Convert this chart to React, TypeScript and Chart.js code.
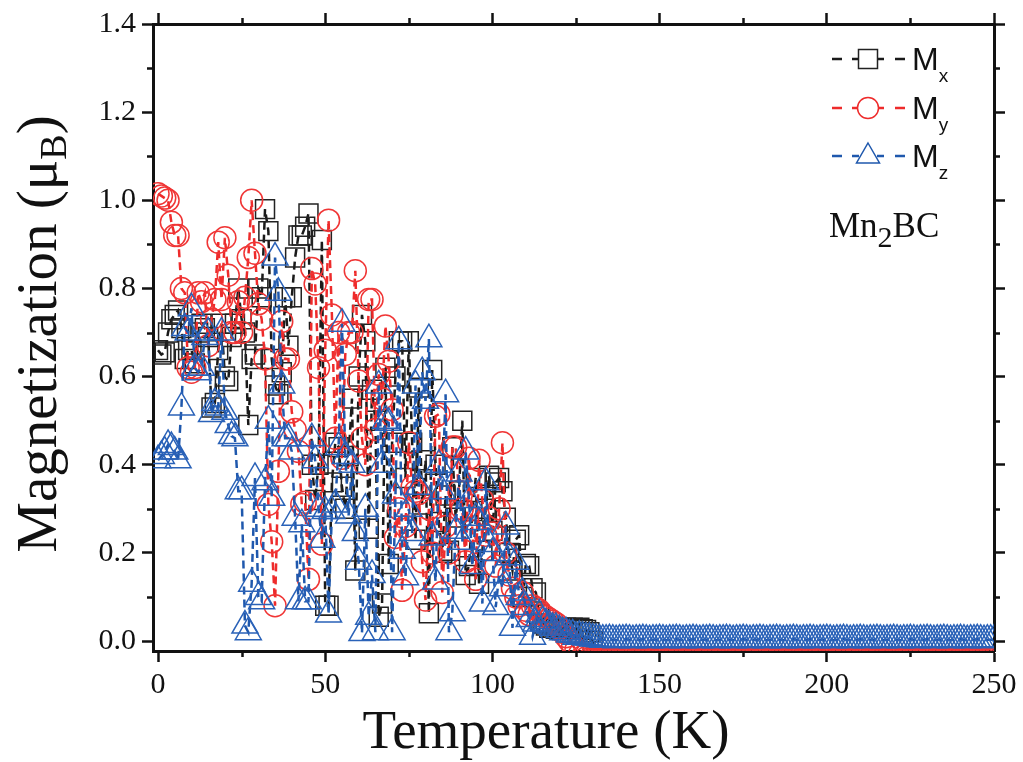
import React, { useEffect, useRef } from 'react';
import { Chart, registerables } from 'chart.js';

Chart.register(...registerables);

// Temperature grid (K), one sample per kelvin from 0 to 250
const temps: number[] = Array.from({ length: 251 }, (_, i) => i);

const mx: number[] = [
  0.66, 0.65, 0.655, 0.70, 0.73, 0.74, 0.75, 0.71, 0.64, 0.66,
  0.66, 0.63, 0.70, 0.72, 0.71, 0.69, 0.53, 0.54, 0.66, 0.72,
  0.60, 0.59, 0.69, 0.72, 0.80, 0.73, 0.70, 0.49, 0.64, 0.65,
  0.80, 0.78, 0.98, 0.93, 0.64, 0.58, 0.56, 0.61, 0.78, 0.67,
  0.78, 0.87, 0.92, 0.92, 0.94, 0.97, 0.40, 0.32, 0.40, 0.91,
  0.08, 0.08, 0.36, 0.45, 0.44, 0.35, 0.30, 0.42, 0.55, 0.16,
  0.60, 0.74, 0.68, 0.255, 0.57, 0.50, 0.055, 0.085, 0.62, 0.175,
  0.45, 0.60, 0.68, 0.68, 0.37, 0.68, 0.45, 0.23, 0.575, 0.31,
  0.41, 0.063, 0.615, 0.40, 0.27, 0.20, 0.33, 0.205, 0.44, 0.28,
  0.34, 0.50, 0.15, 0.17, 0.295, 0.37, 0.13, 0.205, 0.30, 0.375,
  0.25, 0.36, 0.37, 0.34, 0.28, 0.20, 0.16, 0.23, 0.24, 0.10,
  0.175, 0.17, 0.12, 0.11, 0.06, 0.04, 0.035, 0.03, 0.03, 0.028,
  0.03, 0.028, 0.03, 0.026, 0.03, 0.028, 0.03, 0.027, 0.025, 0.02,
  0.0, -0.045, -0.044, -0.045, -0.046, -0.045, -0.044, -0.045, -0.045, -0.046,
  -0.045, -0.044, -0.045, -0.045, -0.046, -0.045, -0.044, -0.045, -0.045, -0.046,
  -0.045, -0.044, -0.045, -0.045, -0.046, -0.045, -0.044, -0.045, -0.045, -0.046,
  -0.045, -0.044, -0.045, -0.045, -0.046, -0.045, -0.044, -0.045, -0.045, -0.046,
  -0.045, -0.044, -0.045, -0.045, -0.046, -0.045, -0.044, -0.045, -0.045, -0.046,
  -0.045, -0.044, -0.045, -0.045, -0.046, -0.045, -0.044, -0.045, -0.045, -0.046,
  -0.045, -0.044, -0.045, -0.045, -0.046, -0.045, -0.044, -0.045, -0.045, -0.046,
  -0.045, -0.044, -0.045, -0.045, -0.046, -0.045, -0.044, -0.045, -0.045, -0.046,
  -0.045, -0.044, -0.045, -0.045, -0.046, -0.045, -0.044, -0.045, -0.045, -0.046,
  -0.045, -0.044, -0.045, -0.045, -0.046, -0.045, -0.044, -0.045, -0.045, -0.046,
  -0.045, -0.044, -0.045, -0.045, -0.046, -0.045, -0.044, -0.045, -0.045, -0.046,
  -0.045, -0.044, -0.045, -0.045, -0.046, -0.045, -0.044, -0.045, -0.045, -0.046,
  -0.045,
];

const my: number[] = [
  1.015, 1.01, 1.005, 1.0, 0.95, 0.92, 0.92, 0.80, 0.79, 0.62,
  0.61, 0.62, 0.79, 0.77, 0.79, 0.67, 0.73, 0.775, 0.905, 0.775,
  0.915, 0.83, 0.70, 0.70, 0.77, 0.70, 0.78, 0.87, 1.0, 0.88,
  0.765, 0.73, 0.64, 0.31, 0.225, 0.08, 0.385, 0.725, 0.64, 0.64,
  0.52, 0.48, 0.43, 0.31, 0.315, 0.14, 0.845, 0.81, 0.62, 0.22,
  0.66, 0.955, 0.74, 0.46, 0.70, 0.415, 0.65, 0.70, 0.70, 0.84,
  0.59, 0.46, 0.40, 0.775, 0.775, 0.48, 0.605, 0.55, 0.715, 0.635,
  0.525, 0.235, 0.30, 0.115, 0.26, 0.45, 0.35, 0.34, 0.335, 0.18,
  0.093, 0.30, 0.20, 0.51, 0.515, 0.11, 0.26, 0.20, 0.44, 0.44,
  0.34, 0.30, 0.18, 0.415, 0.25, 0.14, 0.41, 0.32, 0.24, 0.28,
  0.245, 0.17, 0.30, 0.45, 0.20, 0.15, 0.12, 0.10, 0.08, 0.11,
  0.07, 0.06, 0.08, 0.075, 0.07, 0.06, 0.055, 0.05, 0.045, 0.04,
  0.03, 0.02, 0.01, 0.0, -0.01, -0.02, -0.03, -0.035, -0.038, -0.04,
  -0.04, -0.04, -0.041, -0.04, -0.04, -0.041, -0.04, -0.04, -0.041, -0.04,
  -0.04, -0.04, -0.041, -0.04, -0.04, -0.041, -0.04, -0.04, -0.041, -0.04,
  -0.04, -0.04, -0.041, -0.04, -0.04, -0.041, -0.04, -0.04, -0.041, -0.04,
  -0.04, -0.04, -0.041, -0.04, -0.04, -0.041, -0.04, -0.04, -0.041, -0.04,
  -0.04, -0.04, -0.041, -0.04, -0.04, -0.041, -0.04, -0.04, -0.041, -0.04,
  -0.04, -0.04, -0.041, -0.04, -0.04, -0.041, -0.04, -0.04, -0.041, -0.04,
  -0.04, -0.04, -0.041, -0.04, -0.04, -0.041, -0.04, -0.04, -0.041, -0.04,
  -0.04, -0.04, -0.041, -0.04, -0.04, -0.041, -0.04, -0.04, -0.041, -0.04,
  -0.04, -0.04, -0.041, -0.04, -0.04, -0.041, -0.04, -0.04, -0.041, -0.04,
  -0.04, -0.04, -0.041, -0.04, -0.04, -0.041, -0.04, -0.04, -0.041, -0.04,
  -0.04, -0.04, -0.041, -0.04, -0.04, -0.041, -0.04, -0.04, -0.041, -0.04,
  -0.04, -0.04, -0.041, -0.04, -0.04, -0.041, -0.04, -0.04, -0.041, -0.04,
  -0.04,
];

const mz: number[] = [
  0.41, 0.42, 0.43, 0.445, 0.44, 0.43, 0.41, 0.53, 0.71, 0.70,
  0.755, 0.62, 0.61, 0.62, 0.69, 0.70, 0.515, 0.54, 0.53, 0.70,
  0.52, 0.49, 0.465, 0.46, 0.34, 0.34, 0.035, 0.02, 0.13, 0.37,
  0.10, 0.09, 0.36, 0.50, 0.325, 0.87, 0.79, 0.58, 0.46, 0.46,
  0.43, 0.28, 0.09, 0.265, 0.09, 0.09, 0.46, 0.41, 0.30, 0.23,
  0.295, 0.06, 0.295, 0.31, 0.44, 0.72, 0.42, 0.285, 0.40, 0.245,
  0.18, 0.018, 0.30, 0.055, 0.15, 0.02, 0.58, 0.40, 0.50, 0.495,
  0.02, 0.33, 0.68, 0.205, 0.145, 0.30, 0.245, 0.58, 0.35, 0.61,
  0.545, 0.685, 0.235, 0.135, 0.40, 0.34, 0.56, 0.02, 0.063, 0.25,
  0.38, 0.225, 0.43, 0.32, 0.17, 0.28, 0.27, 0.085, 0.36, 0.22,
  0.20, 0.077, 0.15, 0.12, 0.26, 0.19, 0.03, 0.18, 0.10, 0.11,
  0.077, 0.05, 0.01, 0.04, 0.06, 0.045, 0.04, 0.035, 0.03, 0.03,
  0.025, 0.02, 0.02, 0.015, 0.015, 0.01, 0.012, 0.01, 0.008, 0.008,
  0.006, 0.005, 0.004, 0.003, 0.003, 0.004, 0.003, 0.002, 0.003, 0.003,
  0.004, 0.003, 0.002, 0.003, 0.003, 0.004, 0.003, 0.002, 0.003, 0.003,
  0.004, 0.003, 0.002, 0.003, 0.003, 0.004, 0.003, 0.002, 0.003, 0.003,
  0.004, 0.003, 0.002, 0.003, 0.003, 0.004, 0.003, 0.002, 0.003, 0.003,
  0.004, 0.003, 0.002, 0.003, 0.003, 0.004, 0.003, 0.002, 0.003, 0.003,
  0.004, 0.003, 0.002, 0.003, 0.003, 0.004, 0.003, 0.002, 0.003, 0.003,
  0.004, 0.003, 0.002, 0.003, 0.003, 0.004, 0.003, 0.002, 0.003, 0.003,
  0.004, 0.003, 0.002, 0.003, 0.003, 0.004, 0.003, 0.002, 0.003, 0.003,
  0.004, 0.003, 0.002, 0.003, 0.003, 0.004, 0.003, 0.002, 0.003, 0.003,
  0.004, 0.003, 0.002, 0.003, 0.003, 0.004, 0.003, 0.002, 0.003, 0.003,
  0.004, 0.003, 0.002, 0.003, 0.003, 0.004, 0.003, 0.002, 0.003, 0.003,
  0.004, 0.003, 0.002, 0.003, 0.003, 0.004, 0.003, 0.002, 0.003, 0.003,
  0.003,
];

const xMajorTicks = [0, 50, 100, 150, 200, 250];
const xMinorTicks = [25, 75, 125, 175, 225];
const yMajorTicks = [0, 0.2, 0.4, 0.6, 0.8, 1.0, 1.2, 1.4];
const yMinorTicks = [0.1, 0.3, 0.5, 0.7, 0.9, 1.1, 1.3];

const X_MIN = -1.5;
const X_MAX = 250;
const Y_MIN = -0.0226;
const Y_MAX = 1.4;

const BLACK = '#1a1a1a';
const RED = '#ee2b2b';
const BLUE = '#1f58ad';
const SERIF = '"Liberation Serif", "Times New Roman", serif';
const SANS = '"Liberation Sans", Arial, sans-serif';

const MAJOR_TL = 11;
const MINOR_TL = 6;

function axisCommon(position: string, showLabels: boolean, size: number, isX: boolean, majors: number[]) {
  return {
    type: 'linear' as const,
    position,
    min: isX ? X_MIN : Y_MIN,
    max: isX ? X_MAX : Y_MAX,
    z: 2,
    afterBuildTicks: (scale: any) => {
      scale.ticks = majors.map((v) => ({ value: v }));
    },
    afterFit: (scale: any) => {
      if (isX) scale.height = size;
      else scale.width = size;
    },
    ticks: {
      display: showLabels,
      autoSkip: false,
      maxRotation: 0,
      padding: isX ? 5 : 6,
      color: '#111',
      font: { family: SERIF, size: 30 },
      callback: (v: any) => (isX ? String(v) : Number(v).toFixed(1)),
    },
    grid: {
      drawOnChartArea: false,
      drawTicks: true,
      tickLength: MAJOR_TL,
      tickWidth: 2.5,
      tickColor: '#111',
    },
    border: { display: true, color: '#111', width: 3 },
  };
}

function drawSubText(ctx: CanvasRenderingContext2D, parts: { t: string; font: string; dy: number }[], x: number, y: number, align: 'left' | 'center') {
  let total = 0;
  const widths = parts.map((p) => {
    ctx.font = p.font;
    const w = ctx.measureText(p.t).width;
    total += w;
    return w;
  });
  let cx = align === 'center' ? x - total / 2 : x;
  parts.forEach((p, i) => {
    ctx.font = p.font;
    ctx.fillText(p.t, cx, y + p.dy);
    cx += widths[i];
  });
}

const decorPlugin = {
  id: 'decor',
  afterDraw(chart: any) {
    const ctx: CanvasRenderingContext2D = chart.ctx;
    const xs = chart.scales.x;
    const ys = chart.scales.y;
    const area = chart.chartArea;
    ctx.save();
    // minor ticks
    ctx.strokeStyle = '#111';
    ctx.lineWidth = 2.5;
    ctx.beginPath();
    xMinorTicks.forEach((v) => {
      const px = Math.round(xs.getPixelForValue(v)) + 0.5;
      ctx.moveTo(px, area.bottom);
      ctx.lineTo(px, area.bottom + MINOR_TL);
      ctx.moveTo(px, area.top);
      ctx.lineTo(px, area.top - MINOR_TL);
    });
    yMinorTicks.forEach((v) => {
      const py = Math.round(ys.getPixelForValue(v)) + 0.5;
      ctx.moveTo(area.left, py);
      ctx.lineTo(area.left - MINOR_TL, py);
      ctx.moveTo(area.right, py);
      ctx.lineTo(area.right + MINOR_TL, py);
    });
    ctx.stroke();

    // axis titles
    ctx.fillStyle = '#111';
    ctx.textBaseline = 'alphabetic';
    ctx.textAlign = 'left';
    drawSubText(ctx, [{ t: 'Temperature (K)', font: `55px ${SERIF}`, dy: 0 }], 546, 748, 'center');
    ctx.save();
    ctx.translate(56, 334);
    ctx.rotate(-Math.PI / 2);
    drawSubText(
      ctx,
      [
        { t: 'Magnetization (\u03bc', font: `57px ${SERIF}`, dy: 0 },
        { t: 'B', font: `38px ${SERIF}`, dy: 10 },
        { t: ')', font: `57px ${SERIF}`, dy: 0 },
      ],
      0,
      0,
      'center'
    );
    ctx.restore();

    // legend
    const rows = [
      { y: 59, color: BLACK, mColor: '#222', shape: 'rect', sub: 'x' },
      { y: 108, color: RED, mColor: RED, shape: 'circle', sub: 'y' },
      { y: 156, color: BLUE, mColor: BLUE, shape: 'triangle', sub: 'z' },
    ];
    rows.forEach((r) => {
      ctx.strokeStyle = r.color;
      ctx.lineWidth = 2.5;
      ctx.beginPath();
      [[832, 842], [852, 859], [877, 884], [895, 905]].forEach(([a, b]) => {
        ctx.moveTo(a, r.y);
        ctx.lineTo(b, r.y);
      });
      ctx.stroke();
      ctx.strokeStyle = r.mColor;
      ctx.lineWidth = 1.5;
      ctx.fillStyle = '#fff';
      ctx.beginPath();
      const cx = 868;
      if (r.shape === 'rect') {
        ctx.rect(cx - 9.5, r.y - 9.5, 19, 19);
      } else if (r.shape === 'circle') {
        ctx.arc(cx, r.y, 10.5, 0, Math.PI * 2);
      } else {
        ctx.moveTo(cx, r.y - 13);
        ctx.lineTo(cx + 11.5, r.y + 7);
        ctx.lineTo(cx - 11.5, r.y + 7);
        ctx.closePath();
      }
      ctx.fill();
      ctx.stroke();
      ctx.fillStyle = '#111';
      ctx.textAlign = 'left';
      drawSubText(
        ctx,
        [
          { t: 'M', font: `32px ${SANS}`, dy: 0 },
          { t: r.sub, font: `19px ${SANS}`, dy: 12 },
        ],
        912,
        r.y + 11,
        'left'
      );
    });

    // compound label
    ctx.fillStyle = '#111';
    drawSubText(
      ctx,
      [
        { t: 'Mn', font: `35px ${SERIF}`, dy: 0 },
        { t: '2', font: `30px ${SERIF}`, dy: 10 },
        { t: 'BC', font: `35px ${SERIF}`, dy: 0 },
      ],
      829,
      237,
      'left'
    );
    ctx.restore();
  },
};

function series(values: number[]) {
  return temps.map((t, i) => ({ x: t, y: values[i] }));
}

export default function App() {
  const ref = useRef<HTMLCanvasElement>(null);
  useEffect(() => {
    if (!ref.current) return;
    const common = {
      showLine: true,
      borderWidth: 2.5,
      borderDash: [8, 5],
      tension: 0,
      pointBorderWidth: 1.5,
      pointBackgroundColor: 'rgba(0,0,0,0)',
      clip: 0,
    };
    const chart = new Chart(ref.current, {
      type: 'line',
      data: {
        datasets: [
          {
            ...common,
            label: 'Mx',
            data: series(mx),
            borderColor: BLACK,
            pointBorderColor: '#222',
            pointStyle: 'rect',
            pointRadius: 13.4,
            order: 2,
          },
          {
            ...common,
            label: 'My',
            data: series(my),
            borderColor: RED,
            pointBorderColor: '#f03535',
            pointStyle: 'circle',
            pointRadius: 11,
            order: 1,
          },
          {
            ...common,
            label: 'Mz',
            data: series(mz),
            borderColor: BLUE,
            pointBorderColor: '#2a62b8',
            pointStyle: 'triangle',
            pointRadius: 15,
            order: 0,
          },
        ] as any,
      },
      options: {
        responsive: false,
        animation: false,
        events: [],
        layout: { padding: 0 },
        plugins: {
          legend: { display: false },
          tooltip: { enabled: false },
          title: { display: false },
        },
        scales: {
          x: axisCommon('bottom', true, 111, true, xMajorTicks),
          x2: axisCommon('top', false, 20, true, xMajorTicks),
          y: axisCommon('left', true, 153, false, yMajorTicks),
          y2: axisCommon('right', false, 29, false, yMajorTicks),
        } as any,
      },
      plugins: [decorPlugin],
    });
    return () => chart.destroy();
  }, []);
  return (
    <div style={{ position: 'absolute', left: 0, top: 0, width: 1023, height: 762, background: '#fff' }}>
      <canvas ref={ref} width={1023} height={762} style={{ display: 'block', width: 1023, height: 762 }} />
    </div>
  );
}
